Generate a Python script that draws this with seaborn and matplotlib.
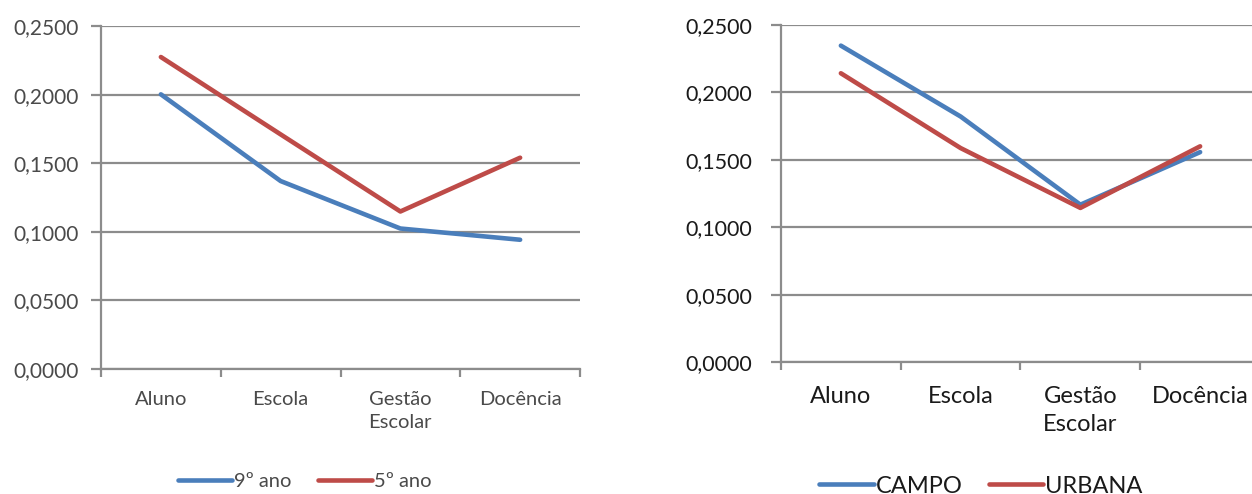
import numpy as np
import pandas as pd
import matplotlib
matplotlib.use("Agg")
import matplotlib.pyplot as plt
from matplotlib.ticker import FixedLocator, FuncFormatter
from matplotlib.lines import Line2D
import seaborn as sns

# Categories shared by both panels
categorias = ["Aluno", "Escola", "Gestão\nEscolar", "Docência"]

# Left panel: school grade
ano9 = [0.2002, 0.1370, 0.1024, 0.0942]
ano5 = [0.2274, 0.1710, 0.1148, 0.1540]
series_esq = ["9º ano", "5º ano"]

# Right panel: location
campo = [0.2347, 0.1821, 0.1167, 0.1557]
urbana = [0.2142, 0.1587, 0.1143, 0.1600]
series_dir = ["CAMPO", "URBANA"]

y_ticks = [0.0, 0.05, 0.10, 0.15, 0.20, 0.25]

AZUL = "#4a7ebb"
VERMELHO = "#be4b48"
CINZA = "#8c8c8c"

sns.set_theme(style="white")
plt.rcParams["font.family"] = ["Lato", "DejaVu Sans"]


def long_frame(nomes, valores):
    rows = []
    for nome, vals in zip(nomes, valores):
        for i, v in enumerate(vals):
            rows.append({"pos": i, "valor": v, "serie": nome})
    return pd.DataFrame(rows)


def style_axes(ax, fs, yfs, color, pad, ypad, spacing):
    ax.set_xlim(-0.5, len(categorias) - 0.5)
    ax.set_ylim(0, 0.25)
    ax.yaxis.set_major_locator(FixedLocator(y_ticks))
    ax.yaxis.set_major_formatter(FuncFormatter(lambda v, p: f"{v:.4f}".replace(".", ",")))
    ax.grid(axis="y", color=CINZA, linewidth=1.6)
    ax.grid(axis="x", visible=False)
    ax.set_axisbelow(True)
    for s in ["top", "right"]:
        ax.spines[s].set_visible(False)
    for s in ["left", "bottom"]:
        ax.spines[s].set_color(CINZA)
        ax.spines[s].set_linewidth(1.6)
    # boundaries between categories carry the tick marks
    ax.set_xticks(np.arange(-0.5, len(categorias), 1.0))
    ax.set_xticklabels([])
    ax.set_xticks(np.arange(len(categorias)), minor=True)
    ax.set_xticklabels(categorias, minor=True, fontsize=fs, color=color,
                       linespacing=spacing, va="top")
    ax.tick_params(axis="x", which="major", direction="out", length=6,
                   width=1.6, color=CINZA, bottom=True)
    ax.tick_params(axis="x", which="minor", length=0, pad=pad)
    ax.tick_params(axis="y", direction="out", length=7, width=1.6,
                   color=CINZA, left=True, labelsize=yfs, labelcolor=color, pad=ypad)
    ax.set_xlabel("")
    ax.set_ylabel("")


fig = plt.figure(figsize=(12.52, 4.94), dpi=100)
W, H = 1252, 494

ax1 = fig.add_axes([101 / W, (H - 369) / H, (580 - 101) / W, (369 - 26) / H])
ax2 = fig.add_axes([781 / W, (H - 362) / H, (1260 - 781) / W, (362 - 25) / H])

df1 = long_frame(series_esq, [ano9, ano5])
df2 = long_frame(series_dir, [campo, urbana])

sns.lineplot(data=df1, x="pos", y="valor", hue="serie", hue_order=series_esq,
             palette=[AZUL, VERMELHO], linewidth=3.3, ax=ax1, legend=False)
sns.lineplot(data=df2, x="pos", y="valor", hue="serie", hue_order=series_dir,
             palette=[AZUL, VERMELHO], linewidth=3.3, ax=ax2, legend=False)

style_axes(ax1, 14.5, 15, "#4a4a4a", 16, 9, 1.4)
style_axes(ax2, 17, 15.5, "#1a1a1a", 17, 14, 1.45)

h1 = [Line2D([], [], color=c, linewidth=3.3) for c in (AZUL, VERMELHO)]
fig.legend(h1, series_esq, loc="center", bbox_to_anchor=(305 / W, (H - 481) / H),
           ncol=2, frameon=False, handlelength=2.7, handletextpad=0.1,
           columnspacing=1.3, fontsize=14.5, labelcolor="#4a4a4a",
           borderpad=0, borderaxespad=0)
h2 = [Line2D([], [], color=c, linewidth=3.3) for c in (AZUL, VERMELHO)]
fig.legend(h2, series_dir, loc="center", bbox_to_anchor=(981 / W, (H - 486) / H),
           ncol=2, frameon=False, handlelength=2.3, handletextpad=0.1,
           columnspacing=1.1, fontsize=17, labelcolor="#1a1a1a",
           borderpad=0, borderaxespad=0)

fig.savefig("out.png", dpi=100, facecolor="white")
